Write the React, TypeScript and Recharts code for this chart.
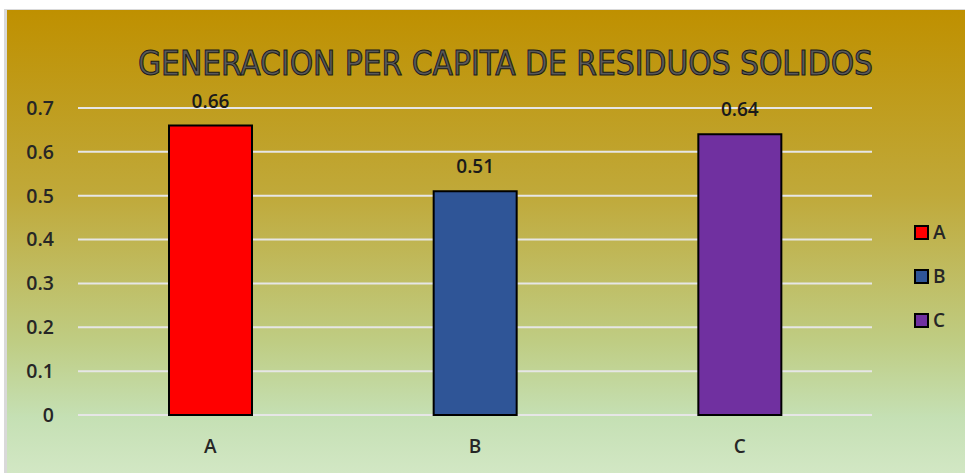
import { BarChart, Bar, XAxis, YAxis, CartesianGrid, Cell, LabelList } from "recharts";

const categories = ["A", "B", "C"];
const values = [0.66, 0.51, 0.64];
const colors = ["#FF0000", "#2F5597", "#7030A0"];
const yTicks = [0, 0.1, 0.2, 0.3, 0.4, 0.5, 0.6, 0.7];
const title = "GENERACION PER CAPITA DE RESIDUOS SOLIDOS";

const data = categories.map((name, i) => ({ name, value: values[i] }));

const W = 961;
const H = 464;
const font = "'Open Sans', sans-serif";

function Title() {
  return (
    <text
      x={134}
      y={66}
      textLength={735}
      lengthAdjust="spacingAndGlyphs"
      fontFamily="'DejaVu Sans Condensed', 'DejaVu Sans', sans-serif"
      fontSize={34}
      fill="#595959"
      stroke="#1a1a1a"
      strokeWidth={1}
    >
      {title}
    </text>
  );
}

export default function App() {
  return (
    <div
      style={{
        position: "absolute",
        left: 4,
        top: 9,
        width: W,
        height: H,
        background: "linear-gradient(180deg, #BF9000 0%, #C0A93A 40%, #BFCD84 72%, #C5E0B4 88%, #D2E7C4 100%)",
        borderLeft: "3px solid #D9D9D9",
        borderTop: "1px solid #D9D9D9",
        boxSizing: "border-box",
      }}
    >
      <BarChart
        width={W}
        height={H}
        data={data}
        margin={{ top: 99, right: 93, bottom: 0, left: 0 }}
        style={{ position: "absolute", left: -3, top: -1 }}
      >
        <Title />
        <CartesianGrid horizontal vertical={false} stroke="#E6E6E6" strokeWidth={2} />
        <XAxis
          dataKey="name"
          axisLine={false}
          tickLine={false}
          height={58}
          tick={{ fill: "#262626", fontSize: 19, fontWeight: 600, fontFamily: font }}
          tickMargin={19}
        />
        <YAxis
          domain={[0, 0.7]}
          ticks={yTicks}
          width={74}
          axisLine={false}
          tickLine={false}
          tickMargin={18}
          tick={{ fill: "#262626", fontSize: 19.5, fontWeight: 600, fontFamily: font }}
          tickFormatter={(v: number) => String(Number(v.toFixed(1)))}
        />
        <Bar dataKey="value" barSize={83} stroke="#000" strokeWidth={2} isAnimationActive={false}>
          {data.map((d, i) => (
            <Cell key={d.name} fill={colors[i]} />
          ))}
          <LabelList
            dataKey="value"
            position="top"
            offset={18}
            fill="#1a1a1a"
            fontSize={19}
            fontWeight={600}
            fontFamily={font}
          />
        </Bar>
      </BarChart>
      {categories.map((c, i) => (
        <div
          key={c}
          style={{
            position: "absolute",
            left: 907,
            top: 209 + i * 44,
            display: "flex",
            alignItems: "center",
            fontFamily: font,
            fontSize: 19,
            fontWeight: 600,
            color: "#262626",
          }}
        >
          <span
            style={{
              display: "inline-block",
              width: 11,
              height: 11,
              background: colors[i],
              border: "2px solid #000",
              marginRight: 4,
            }}
          />
          {c}
        </div>
      ))}
    </div>
  );
}
